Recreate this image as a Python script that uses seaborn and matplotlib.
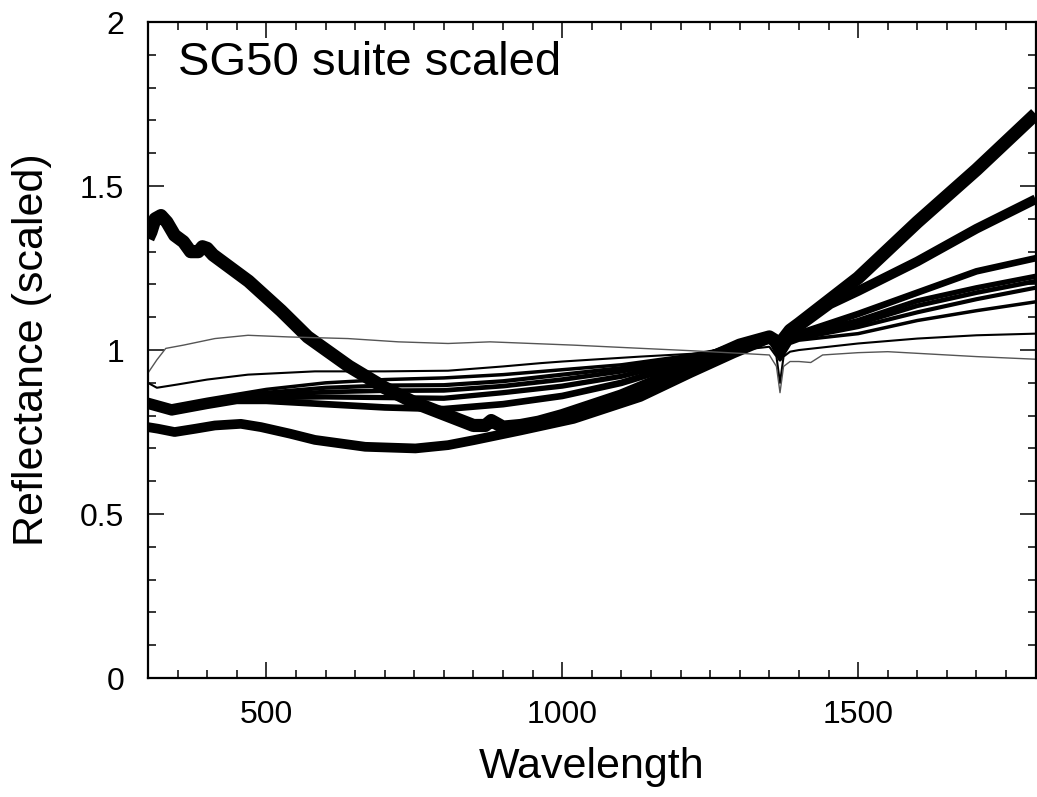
"""SG50 suite scaled — reflectance spectra normalised near 1300 nm."""

import matplotlib
matplotlib.use("Agg")
import matplotlib.pyplot as plt
from matplotlib.ticker import MultipleLocator
import seaborn as sns

sns.set_theme(style="ticks")
plt.rcParams["font.family"] = ["Liberation Sans", "DejaVu Sans"]
plt.rcParams["text.color"] = "black"
plt.rcParams["axes.labelcolor"] = "black"

# --- curves (wavelength, scaled reflectance) ---
wl_a = [300, 305, 312, 322, 332, 345, 360, 372, 385, 392, 400, 410, 470, 525,
        570, 640, 700, 750, 800, 850, 870, 880, 900, 930, 960, 1000, 1100,
        1200, 1250, 1300, 1350, 1368, 1385, 1400, 1450, 1500, 1600, 1700, 1800]
refl_a = [1.34, 1.36, 1.40, 1.41, 1.39, 1.35, 1.33, 1.30, 1.30, 1.315, 1.31,
          1.29, 1.21, 1.12, 1.04, 0.95, 0.885, 0.84, 0.805, 0.77, 0.77, 0.785,
          0.765, 0.77, 0.78, 0.80, 0.86, 0.935, 0.975, 1.015, 1.04, 1.02, 1.06,
          1.08, 1.15, 1.22, 1.39, 1.55, 1.72]

wl_low = [300, 317, 345, 380, 413, 457, 491, 540, 582, 667, 752, 807, 850, 930,
          1019, 1132, 1217, 1290, 1350, 1368, 1385, 1400, 1453, 1500, 1600,
          1700, 1800]
refl_low = [0.765, 0.76, 0.75, 0.76, 0.77, 0.775, 0.765, 0.745, 0.726, 0.705,
            0.70, 0.71, 0.725, 0.755, 0.79, 0.857, 0.93, 0.99, 1.035, 1.015,
            1.05, 1.07, 1.14, 1.18, 1.27, 1.37, 1.46]

wl_gray = [300, 315, 330, 360, 413, 469, 537, 638, 723, 807, 878, 1019, 1100,
           1217, 1300, 1350, 1362, 1368, 1374, 1385, 1400, 1420, 1440, 1500,
           1550, 1600, 1700, 1800]
refl_gray = [0.93, 0.97, 1.005, 1.015, 1.035, 1.045, 1.04, 1.035, 1.025, 1.02,
             1.025, 1.015, 1.008, 0.998, 0.99, 0.985, 0.95, 0.87, 0.95, 0.965,
             0.965, 0.962, 0.985, 0.992, 0.995, 0.99, 0.98, 0.972]

wl_thin = [300, 315, 350, 400, 469, 582, 700, 807, 900, 963, 1000, 1132, 1233,
           1300, 1350, 1362, 1368, 1374, 1385, 1400, 1500, 1600, 1700, 1800]
refl_thin = [0.90, 0.885, 0.895, 0.91, 0.925, 0.935, 0.935, 0.937, 0.95, 0.96,
             0.965, 0.98, 0.99, 1.0, 1.01, 0.98, 0.90, 0.98, 0.995, 1.0, 1.02,
             1.035, 1.045, 1.05]

wl_mid = [300, 340, 400, 450, 500, 600, 700, 800, 900, 1000, 1100, 1200, 1300,
          1350, 1368, 1385, 1400, 1500, 1600, 1700, 1800]
refl_b1 = [0.85, 0.83, 0.85, 0.865, 0.88, 0.90, 0.91, 0.915, 0.925, 0.94, 0.955,
           0.98, 1.01, 1.03, 0.97, 1.02, 1.03, 1.05, 1.09, 1.12, 1.147]
refl_b2 = [0.845, 0.825, 0.845, 0.86, 0.87, 0.885, 0.892, 0.893, 0.905, 0.925,
           0.945, 0.975, 1.01, 1.035, 0.98, 1.025, 1.035, 1.07, 1.115, 1.155, 1.19]
refl_b3 = [0.84, 0.82, 0.84, 0.855, 0.862, 0.872, 0.876, 0.877, 0.89, 0.91,
           0.935, 0.97, 1.01, 1.04, 0.99, 1.03, 1.04, 1.08, 1.135, 1.175, 1.21]
refl_b4 = [0.835, 0.815, 0.835, 0.85, 0.855, 0.857, 0.855, 0.853, 0.87, 0.89,
           0.92, 0.965, 1.015, 1.04, 1.0, 1.035, 1.045, 1.09, 1.15, 1.19, 1.225]
refl_b5 = [0.83, 0.81, 0.83, 0.845, 0.845, 0.835, 0.825, 0.82, 0.835, 0.86,
           0.90, 0.955, 1.02, 1.045, 1.01, 1.04, 1.05, 1.11, 1.175, 1.24, 1.28]

xticks = [500, 1000, 1500]
yticks = [0, 0.5, 1, 1.5, 2]
ytick_labels = ["0", "0.5", "1", "1.5", "2"]

# (x, y, linewidth, colour) — thin lines drawn last so they stay visible
curves = [
    (wl_a, refl_a, 9.5, "black"),
    (wl_low, refl_low, 7.0, "black"),
    (wl_mid, refl_b5, 4.8, "black"),
    (wl_mid, refl_b4, 3.8, "black"),
    (wl_mid, refl_b3, 3.4, "black"),
    (wl_mid, refl_b2, 3.0, "black"),
    (wl_mid, refl_b1, 2.5, "black"),
    (wl_thin, refl_thin, 1.5, "black"),
    (wl_gray, refl_gray, 1.0, "#555555"),
]

fig = plt.figure(figsize=(10.37, 7.97), dpi=100)
ax = fig.add_axes([0.1427, 0.1493, 0.856, 0.823])

for x, y, lw, col in curves:
    sns.lineplot(x=x, y=y, ax=ax, color=col, linewidth=lw, sort=False,
                 estimator=None, solid_capstyle="butt")

ax.set_xlim(300, 1800)
ax.set_ylim(0, 2)
ax.set_xticks(xticks)
ax.set_yticks(yticks, labels=ytick_labels)
ax.xaxis.set_minor_locator(MultipleLocator(50))
ax.yaxis.set_minor_locator(MultipleLocator(0.1))
ax.tick_params(which="both", direction="in", top=True, right=True,
               width=1.1, colors="black", labelcolor="black", labelsize=23)
ax.tick_params(which="major", length=11.5)
ax.tick_params(which="minor", length=6)
ax.tick_params(axis="x", which="major", pad=16)
ax.tick_params(axis="y", which="major", pad=17)
for sp in ax.spines.values():
    sp.set_visible(True)
    sp.set_linewidth(1.6)
    sp.set_color("black")

ax.set_xlabel("Wavelength", fontsize=31, labelpad=12)
ax.set_ylabel("Reflectance (scaled)", fontsize=31, labelpad=20)
ax.text(0.034, 0.919, "SG50 suite scaled", transform=ax.transAxes,
        fontsize=34, va="baseline", ha="left", color="black")

fig.savefig("out.png", dpi=100)
plt.close(fig)
